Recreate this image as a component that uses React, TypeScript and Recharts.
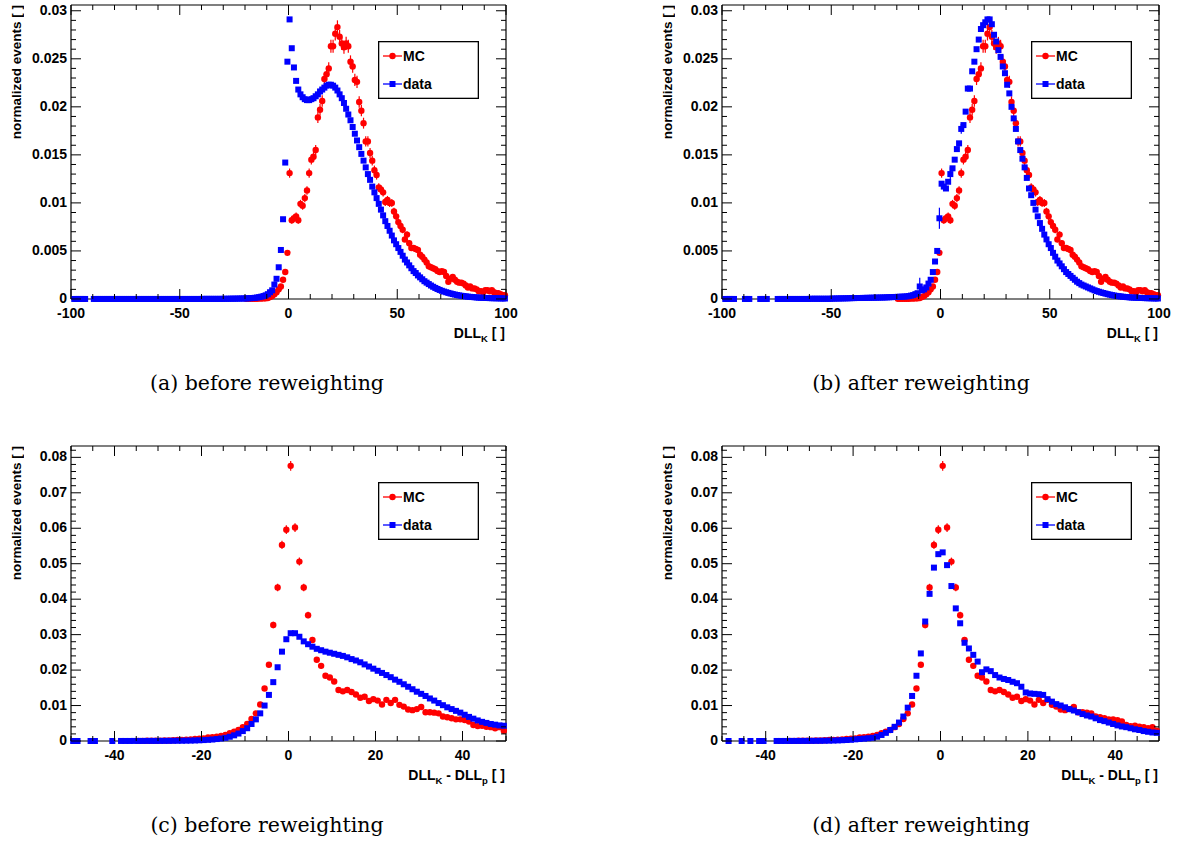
import React from 'react';
import { ScatterChart, Scatter, XAxis, YAxis, ErrorBar, ReferenceLine } from 'recharts';

const N = null;
// bin contents are stored in units of 1e-4
const UNIT = 1e-4;

// DLL_K: 200 bins of width 1 over [-100, 100]; MC is the same before and after reweighting
const DLLK_MC: (number | null)[] = [
  N, N, N, N, N, N, N, N, N, N,
  N, N, N, N, N, N, N, N, N, N,
  N, N, N, N, N, N, N, N, N, N,
  N, N, N, N, N, N, N, N, N, N,
  N, N, N, N, N, N, N, N, N, N,
  N, N, N, N, N, N, N, N, N, N,
  N, N, N, N, N, N, N, N, N, N,
  N, N, N, N, N, N, N, N, N, N,
  0.1, 0.1, 0.2, 0.2, 0.3, 0.3, 0.4, 0.5, 0.6, 0.8,
  1, 2, 3, 5, 7, 10, 13, 20, 28, 48,
  131, 82, 84, 86, 82, 99, 97, 105, 113, 131,
  145, 148, 155, 189, 197, 206, 229, 234, 240, 263,
  263, 276, 283, 273, 266, 262, 266, 263, 247, 242,
  228, 226, 205, 196, 183, 164, 164, 152, 144, 134,
  129, 116, 114, 111, 101, 103, 100, 100, 91, 86,
  80, 76, 72, 62, 67, 58, 53, 53, 52, 51,
  46, 44, 41, 38, 34, 33, 32, 31, 29, 28,
  29, 28, 24, 18, 21, 23, 20, 18, 17, 17,
  16, 14, 12, 13, 11, 11, 10, 8, 8, 7,
  9, 9, 8, 9, 7, 6, 6, 5, 4, 4,
];

const DLLK_DATA_BEFORE: (number | null)[] = [
  N, 0, 0, 0, 0, 0, 0, N, N, N,
  0, 0, 0, 0, 0, 0, 0, 0, 0, 0,
  0, 0, 0, 0, 0, 0, 0, 0, 0, 0,
  0, 0, 0, 0, 0, 0, 0, 0, 0, 0,
  0, 0, 0, 0, 0, 0, 0, 0, 0, 0,
  0, 0, 0, 0, 0, 0, 0, 0, 0, 0,
  0.1, 0.1, 0.1, 0.1, 0.1, 0.1, 0.1, 0.1, 0.1, 0.1,
  0.2, 0.2, 0.2, 0.3, 0.3, 0.3, 0.4, 0.4, 0.5, 0.5,
  0.6, 0.7, 0.8, 1, 1.2, 1.5, 1.9, 2.4, 3, 3.8,
  5, 7, 9, 15, 21, 33, 51, 83, 142, 247,
  291, 261, 241, 227, 218, 213, 210, 208, 207, 207,
  208, 209, 211, 213, 216, 218, 220, 222, 223, 223,
  222, 220, 217, 213, 209, 204, 198, 192, 186, 179,
  172, 165, 158, 151, 144, 137, 130, 124, 117, 111,
  105, 99, 93, 87, 81, 76, 71, 66, 61, 57,
  53, 49, 45, 41, 38, 35, 32, 29, 27, 24.5,
  22.5, 20.5, 18.5, 17, 15.5, 14, 12.7, 11.5, 10.4, 9.4,
  8.5, 7.7, 7, 6.3, 5.7, 5.1, 4.6, 4.1, 3.7, 3.3,
  3, 2.7, 2.4, 2.2, 2, 1.8, 1.6, 1.4, 1.3, 1.2,
  1.1, 1, 0.9, 0.8, 0.8, 0.7, 0.7, 0.6, 0.6, 0.5,
];

const DLLK_DATA_AFTER: (number | null)[] = [
  N, 0, 0, 0, 0, 0, N, N, N, N,
  0, 0, 0, N, N, N, N, 0, 0, 0,
  0, N, N, N, N, 0, 0, 0, 0, 0,
  0, 0, 0, 0, 0, 0, 0, 0, 0, 0,
  0.2, 0.2, 0.2, 0.2, 0.2, 0.2, 0.2, 0.2, 0.2, 0.2,
  0.4, 0.4, 0.5, 0.5, 0.6, 0.6, 0.7, 0.7, 0.8, 0.9,
  0.9, 1, 1, 1, 1.1, 1.1, 1.2, 1.2, 1.3, 1.3,
  1.4, 1.4, 1.5, 1.5, 1.6, 1.7, 1.8, 1.9, 2, 2.1,
  2.2, 2.3, 2.4, 2.5, 2.7, 3, 3.5, 4, 5, 6,
  13, 9, 10, 12, 16, 20, 28, 39, 50, 84,
  120, 117, 115, 122, 130, 136, 145, 156, 162, 177,
  181, 195, 219, 219, 237, 247, 260, 270, 281, 285,
  288, 291, 291, 286, 275, 268, 259, 252, 242, 235,
  223, 214, 200, 188, 177, 164, 155, 146, 137, 126,
  115, 108, 100, 93, 86, 79, 73, 67, 62, 57,
  53, 48, 44, 40, 37, 34, 31, 28, 26, 24,
  22, 20, 18, 16.5, 15, 14, 13, 12, 11, 10,
  9, 8.2, 7.5, 6.8, 6.2, 5.6, 5, 4.5, 4, 3.6,
  3.2, 2.9, 2.6, 2.3, 2.1, 1.9, 1.7, 1.5, 1.4, 1.3,
  1.2, 1.1, 1, 0.9, 0.8, 0.8, 0.7, 0.6, 0.6, 0.5,
];

// the few reweighted data bins whose error bar sticks out of the marker (bin centre -> error)
const DLLK_DATA_AFTER_ERR: Record<string, number> = { '-9.5': 9, '-0.5': 11, '4.5': 7, '9.5': 5 };

// DLL_K - DLL_p: 100 bins of width 1 over [-50, 50]
const DLLKP_MC: (number | null)[] = [
  N, N, N, N, N, N, N, N, N, N,
  N, N, N, N, N, 0.3, 0.4, 0.5, 0.6, 0.8,
  1, 1.2, 1.6, 2.2, 2.8, 3.2, 3.8, 4.6, 5.6, 6.5,
  7.5, 10, 11, 12, 14, 17, 22, 26, 31, 39,
  48, 62, 78, 103, 148, 215, 327, 433, 553, 596,
  776, 602, 506, 433, 355, 285, 229, 212, 184, 179,
  168, 144, 140, 144, 138, 131, 122, 125, 113, 118,
  114, 103, 116, 107, 116, 102, 97, 89, 87, 90,
  96, 81, 81, 80, 78, 69, 67, 64, 61, 61,
  59, 55, 45, 42, 43, 40, 39, 36, 39, 29,
];

const DLLKP_DATA_BEFORE: (number | null)[] = [
  0, 0, N, N, 0, 0, N, N, N, 0,
  N, 0.1, 0.1, 0.1, 0.2, 0.2, 0.2, 0.3, 0.3, 0.3,
  0.4, 0.4, 0.5, 0.6, 0.7, 0.8, 1, 1.2, 1.6, 2,
  2.6, 3.3, 4.2, 5.5, 7, 9, 12, 16, 21, 28,
  36, 48, 61, 78, 100, 130, 166, 208, 252, 287,
  304, 304, 294, 281, 273, 266, 260, 256, 252, 249,
  246, 243, 240, 236, 231, 227, 222, 216, 210, 204,
  198, 192, 186, 180, 173, 167, 160, 153, 146, 139,
  133, 127, 120, 114, 107, 101, 95, 90, 85, 80,
  74, 68, 63, 58, 54, 51, 48, 46, 44, 43,
];

const DLLKP_DATA_AFTER: (number | null)[] = [
  N, 0, N, N, 0, N, 0, N, 0, 0,
  N, N, 0.1, 0.1, 0.1, 0.2, 0.2, 0.2, 0.3, 0.3,
  0.4, 0.5, 0.6, 0.8, 1, 1.3, 1.7, 2.2, 2.8, 3.4,
  4.7, 5.6, 6.6, 7.8, 9, 12, 17, 23, 31, 40,
  52, 69, 94, 127, 184, 247, 337, 415, 489, 527,
  532, 496, 437, 374, 332, 277, 261, 243, 224, 194,
  202, 197, 186, 179, 175, 172, 167, 163, 153, 137,
  134, 133, 132, 130, 118, 111, 104, 100, 95, 90,
  86, 81, 76, 72, 69, 64, 59, 56, 52, 48,
  44, 41, 39, 36, 33, 31, 28, 26, 24, 23,
];

const RED = '#ff0000';
const BLUE = '#0000ff';
const SANS = '"Liberation Sans", Arial, sans-serif';

type Frame = { l: number; r: number; t: number; b: number };
type Panel = {
  id: string;
  frame: Frame;
  xDomain: [number, number];
  xMajor: number;
  xMinor: number;
  yMax: number;
  yMajor: number;
  yMinor: number;
  mc: (number | null)[];
  data: (number | null)[];
  dataErr?: Record<string, number>;
  mcWeight: number; // per-event weight used for the MC statistical error
  xTitle: 'k' | 'kp';
  yTitleX: number;
  legendX: number;
  caption: string;
  captionX: number;
};

const PANELS: Panel[] = [
  {
    id: 'a', frame: { l: 71, r: 506, t: 5, b: 299 }, xDomain: [-100, 100], xMajor: 50, xMinor: 10,
    yMax: 0.0306, yMajor: 0.005, yMinor: 0.001, mc: DLLK_MC, data: DLLK_DATA_BEFORE, mcWeight: 1.75e-5,
    xTitle: 'k', yTitleX: 17, legendX: 378, caption: '(a) before reweighting', captionX: 267,
  },
  {
    id: 'b', frame: { l: 722, r: 1159, t: 5, b: 299 }, xDomain: [-100, 100], xMajor: 50, xMinor: 10,
    yMax: 0.0306, yMajor: 0.005, yMinor: 0.001, mc: DLLK_MC, data: DLLK_DATA_AFTER,
    dataErr: DLLK_DATA_AFTER_ERR, mcWeight: 1.75e-5,
    xTitle: 'k', yTitleX: 668, legendX: 1031, caption: '(b) after reweighting', captionX: 921,
  },
  {
    id: 'c', frame: { l: 71, r: 506, t: 446, b: 741 }, xDomain: [-50, 50], xMajor: 20, xMinor: 5,
    yMax: 0.0832, yMajor: 0.01, yMinor: 0.002, mc: DLLKP_MC, data: DLLKP_DATA_BEFORE, mcWeight: 2.5e-5,
    xTitle: 'kp', yTitleX: 17, legendX: 378, caption: '(c) before reweighting', captionX: 267,
  },
  {
    id: 'd', frame: { l: 722, r: 1159, t: 446, b: 741 }, xDomain: [-50, 50], xMajor: 20, xMinor: 5,
    yMax: 0.0832, yMajor: 0.01, yMinor: 0.002, mc: DLLKP_MC, data: DLLKP_DATA_AFTER, mcWeight: 2.5e-5,
    xTitle: 'kp', yTitleX: 668, legendX: 1031, caption: '(d) after reweighting', captionX: 921,
  },
];

const binCenters = (lo: number, hi: number, n: number) =>
  Array.from({ length: n }, (_, i) => lo + ((hi - lo) * (i + 0.5)) / n);

// MC errors follow the weighted-bin statistics; data errors come from the sparse table
const mcRowsOf = (xs: number[], vals: (number | null)[], w: number) =>
  vals.flatMap((v, i) =>
    v == null ? [] : [{ x: xs[i], y: v * UNIT, err: Math.sqrt(v * UNIT * w) }],
  );

const dataRowsOf = (xs: number[], vals: (number | null)[], errs: Record<string, number> = {}) =>
  vals.flatMap((v, i) =>
    v == null ? [] : [{ x: xs[i], y: v * UNIT, err: (errs[String(xs[i])] ?? 0) * UNIT }],
  );

const stepTicks = (lo: number, hi: number, step: number) => {
  const out: number[] = [];
  for (let i = 0; lo + i * step <= hi + step * 1e-6; i++) out.push(+(lo + i * step).toFixed(6));
  return out;
};

const isMultiple = (v: number, step: number) => Math.abs(v / step - Math.round(v / step)) < 1e-6;

const labelStyle: React.CSSProperties = { fontFamily: SANS, fontWeight: 700, fontSize: 14, fill: '#000' };

// ticks point into the frame, mirrored on the opposite side
const xTick = (major: number, plotH: number) => (props: any) => {
  const { x, y, payload } = props;
  const v = payload.value as number;
  const big = isMultiple(v, major);
  const len = big ? 10 : 5;
  return (
    <g>
      <line x1={x} x2={x} y1={y} y2={y - len} stroke="#000" />
      <line x1={x} x2={x} y1={y - plotH} y2={y - plotH + len} stroke="#000" />
      {big && (
        <text x={x} y={y + 14} textAnchor="middle" dominantBaseline="central" style={labelStyle}>
          {String(v)}
        </text>
      )}
    </g>
  );
};

const yTick = (major: number, plotW: number) => (props: any) => {
  const { x, y, payload } = props;
  const v = payload.value as number;
  const big = isMultiple(v, major);
  const len = big ? 10 : 5;
  return (
    <g>
      <line x1={x} x2={x + len} y1={y} y2={y} stroke="#000" />
      <line x1={x + plotW} x2={x + plotW - len} y1={y} y2={y} stroke="#000" />
      {big && (
        <text x={x - 4} y={y - 1} textAnchor="end" dominantBaseline="central" style={labelStyle}>
          {String(v)}
        </text>
      )}
    </g>
  );
};

const McDot = (props: any) =>
  props.cx == null ? <g /> : <circle cx={props.cx} cy={props.cy} r={3.2} fill={RED} />;

const DataSquare = (props: any) =>
  props.cx == null ? <g /> : <rect x={props.cx - 3} y={props.cy - 3} width={6} height={6} fill={BLUE} />;

function HistPanel({ p }: { p: Panel }) {
  const { l, r, t, b } = p.frame;
  const plotW = r - l;
  const plotH = b - t;
  const xs = binCenters(p.xDomain[0], p.xDomain[1], p.data.length);
  const mcRows = mcRowsOf(xs, p.mc, p.mcWeight);
  const dataRows = dataRowsOf(xs, p.data, p.dataErr);
  const xTicks = stepTicks(p.xDomain[0], p.xDomain[1], p.xMinor);
  const yTicks = stepTicks(0, p.yMax, p.yMinor);
  return (
    <div style={{ position: 'absolute', left: l - 60, top: t - 5 }}>
      <ScatterChart width={plotW + 80} height={plotH + 40} margin={{ top: 5, right: 20, bottom: 5, left: 0 }}>
        <XAxis
          type="number"
          dataKey="x"
          domain={p.xDomain}
          ticks={xTicks}
          interval={0}
          tickSize={0}
          tickMargin={0}
          height={30}
          axisLine={{ stroke: '#000', strokeWidth: 1.2 }}
          tick={xTick(p.xMajor, plotH)}
        />
        <YAxis
          type="number"
          dataKey="y"
          domain={[0, p.yMax]}
          ticks={yTicks}
          interval={0}
          tickSize={0}
          tickMargin={0}
          width={60}
          axisLine={{ stroke: '#000', strokeWidth: 1.2 }}
          tick={yTick(p.yMajor, plotW)}
        />
        <ReferenceLine y={p.yMax} stroke="#000" strokeWidth={1.2} />
        <ReferenceLine x={p.xDomain[1]} stroke="#000" strokeWidth={1.2} />
        <Scatter data={mcRows} shape={McDot} isAnimationActive={false}>
          <ErrorBar dataKey="err" direction="y" width={0} stroke={RED} strokeWidth={1.2} isAnimationActive={false} />
        </Scatter>
        <Scatter data={dataRows} shape={DataSquare} isAnimationActive={false}>
          {p.dataErr && (
            <ErrorBar dataKey="err" direction="y" width={0} stroke={BLUE} strokeWidth={1.2} isAnimationActive={false} />
          )}
        </Scatter>
      </ScatterChart>
    </div>
  );
}

const sub: React.CSSProperties = { fontSize: 9.5, position: 'relative', top: 4 };

function XTitle({ p }: { p: Panel }) {
  return (
    <div
      style={{
        position: 'absolute', right: 1186 - p.frame.r + 1, top: p.frame.b + 25, lineHeight: '18px',
        fontFamily: SANS, fontWeight: 700, fontSize: 14, whiteSpace: 'nowrap',
      }}
    >
      DLL<span style={sub}>K</span>
      {p.xTitle === 'kp' && (
        <>
          {' - '}DLL<span style={sub}>p</span>
        </>
      )}
      {' [ ]'}
    </div>
  );
}

function YTitle({ p }: { p: Panel }) {
  return (
    <div
      style={{
        position: 'absolute', left: p.yTitleX - 9, top: p.frame.t, width: 18, lineHeight: '18px',
        writingMode: 'vertical-rl', transform: 'rotate(180deg)',
        fontFamily: SANS, fontWeight: 700, fontSize: 13.5, whiteSpace: 'nowrap',
      }}
    >
      normalized events [ ]
    </div>
  );
}

function LegendBox({ p }: { p: Panel }) {
  const text: React.CSSProperties = { fontFamily: SANS, fontWeight: 700, fontSize: 14 };
  return (
    <svg style={{ position: 'absolute', left: p.legendX, top: p.frame.t + 36 }} width={101} height={58}>
      <rect x={0.65} y={0.65} width={99.7} height={56.7} fill="#fff" stroke="#000" strokeWidth={1.3} />
      <line x1={5} x2={24} y1={15} y2={15} stroke={RED} strokeWidth={1.3} />
      <circle cx={14.5} cy={15} r={3.2} fill={RED} />
      <text x={25} y={15} dominantBaseline="central" style={text}>MC</text>
      <line x1={5} x2={24} y1={43} y2={43} stroke={BLUE} strokeWidth={1.3} />
      <rect x={11.5} y={40} width={6} height={6} fill={BLUE} />
      <text x={25} y={43} dominantBaseline="central" style={text}>data</text>
    </svg>
  );
}

function Caption({ p }: { p: Panel }) {
  return (
    <div
      style={{
        position: 'absolute', left: p.captionX - 200, top: p.frame.b + 72, width: 400, textAlign: 'center',
        fontFamily: '"DejaVu Serif", serif', fontSize: 20.5, lineHeight: '24px', color: '#000',
      }}
    >
      {p.caption}
    </div>
  );
}

export default function App() {
  return (
    <div style={{ position: 'absolute', left: 0, top: 0, width: 1186, height: 841, background: '#fff', overflow: 'hidden' }}>
      {PANELS.map((p) => (
        <React.Fragment key={p.id}>
          <HistPanel p={p} />
          <YTitle p={p} />
          <XTitle p={p} />
          <LegendBox p={p} />
          <Caption p={p} />
        </React.Fragment>
      ))}
    </div>
  );
}
